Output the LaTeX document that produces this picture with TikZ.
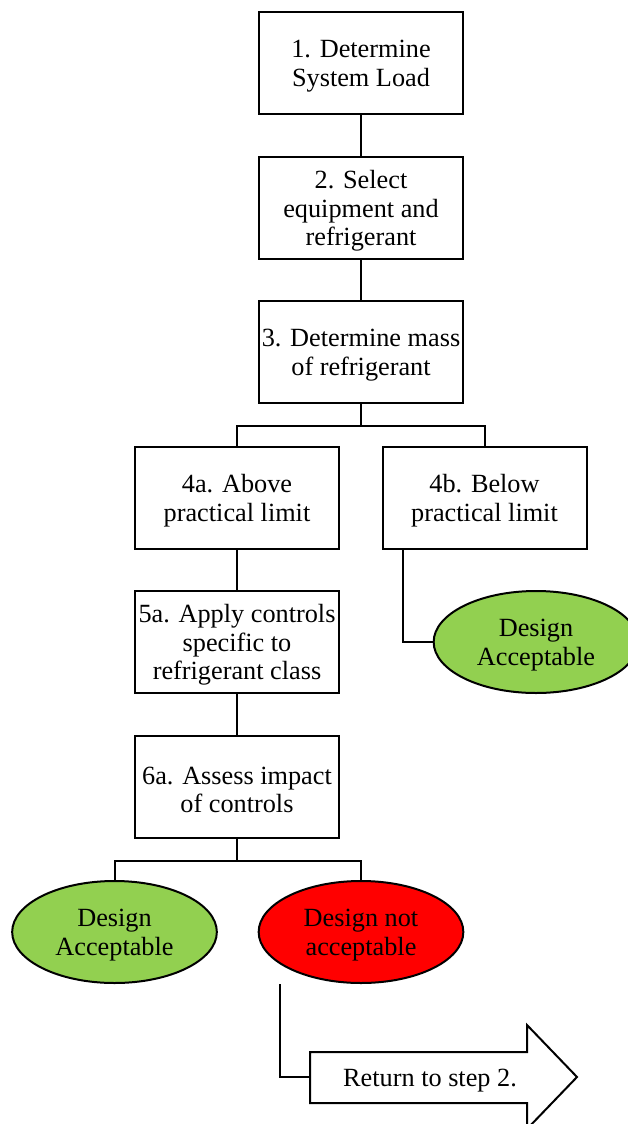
\documentclass[tikz,border=0pt]{standalone}
\usepackage{fontspec}
\setmainfont{Liberation Serif}
\usetikzlibrary{shapes.geometric}
\definecolor{okgreen}{HTML}{92D050}
\definecolor{badred}{HTML}{FF0000}
\tikzset{
  txt/.style={align=center, inner sep=0pt, font=\fontsize{19.7}{21.4}\selectfont, yshift=-2.2pt},
  stepbox/.style={draw, line width=1.5pt, fill=white, rectangle, minimum width=153pt, minimum height=76.5pt, inner sep=0pt, label={[txt]center:{#1}}},
  oval/.style={draw, line width=1.5pt, ellipse, minimum width=153.5pt, minimum height=76.5pt, inner sep=0pt, label={[txt]center:{#1}}},
  conn/.style={draw, line width=1.5pt},
}
\begin{document}
\begin{tikzpicture}[x=0.75pt,y=-0.75pt]
\useasboundingbox (0,0) rectangle (628,1124);
\clip (0,0) rectangle (628,1124);
\node[stepbox={1. Determine\\System Load}] (s1) at (361,63) {};
\node[stepbox={2. Select\\equipment and\\refrigerant}] (s2) at (361,208) {};
\node[stepbox={3. Determine mass\\of refrigerant}] (s3) at (361,352) {};
\node[stepbox={4a. Above\\practical limit}] (s4a) at (237,498) {};
\node[stepbox={4b. Below\\practical limit}] (s4b) at (484.5,498) {};
\node[stepbox={5a. Apply controls\\specific to\\refrigerant class}] (s5a) at (237,642) {};
\node[stepbox={6a. Assess impact\\of controls}] (s6a) at (237,787) {};
\node[oval={Design\\Acceptable}, fill=okgreen] (ok1) at (536,642) {};
\node[oval={Design\\Acceptable}, fill=okgreen] (ok2) at (114.5,932) {};
\node[oval={Design not\\acceptable}, fill=badred] (bad) at (361,932) {};

\draw[conn] (s1) -- (s2);
\draw[conn] (s2) -- (s3);
\draw[conn] (s3.south) -- ++(0,22) -| (s4a.north);
\draw[conn] (s3.south) -- ++(0,22) -| (s4b.north);
\draw[conn] (s4a) -- (s5a);
\draw[conn] (s5a) -- (s6a);
\draw[conn] (s6a.south) -- ++(0,22) -| (ok2.north);
\draw[conn] (s6a.south) -- ++(0,22) -| (bad.north);
\draw[conn] (403,549) |- (ok1.west);

% return arrow
\coordinate (retL) at (310,1077);
\draw[line width=1.5pt, fill=white, line join=miter] (310,1052) -- (527,1052) -- (527,1025) -- (577,1077) -- (527,1129) -- (527,1103) -- (310,1103) -- cycle;
\node[txt] (ret) at (430,1078) {Return to step 2.};
\coordinate (badS) at (280,984);
\draw[conn] (badS) |- (retL);
\end{tikzpicture}
\end{document}
